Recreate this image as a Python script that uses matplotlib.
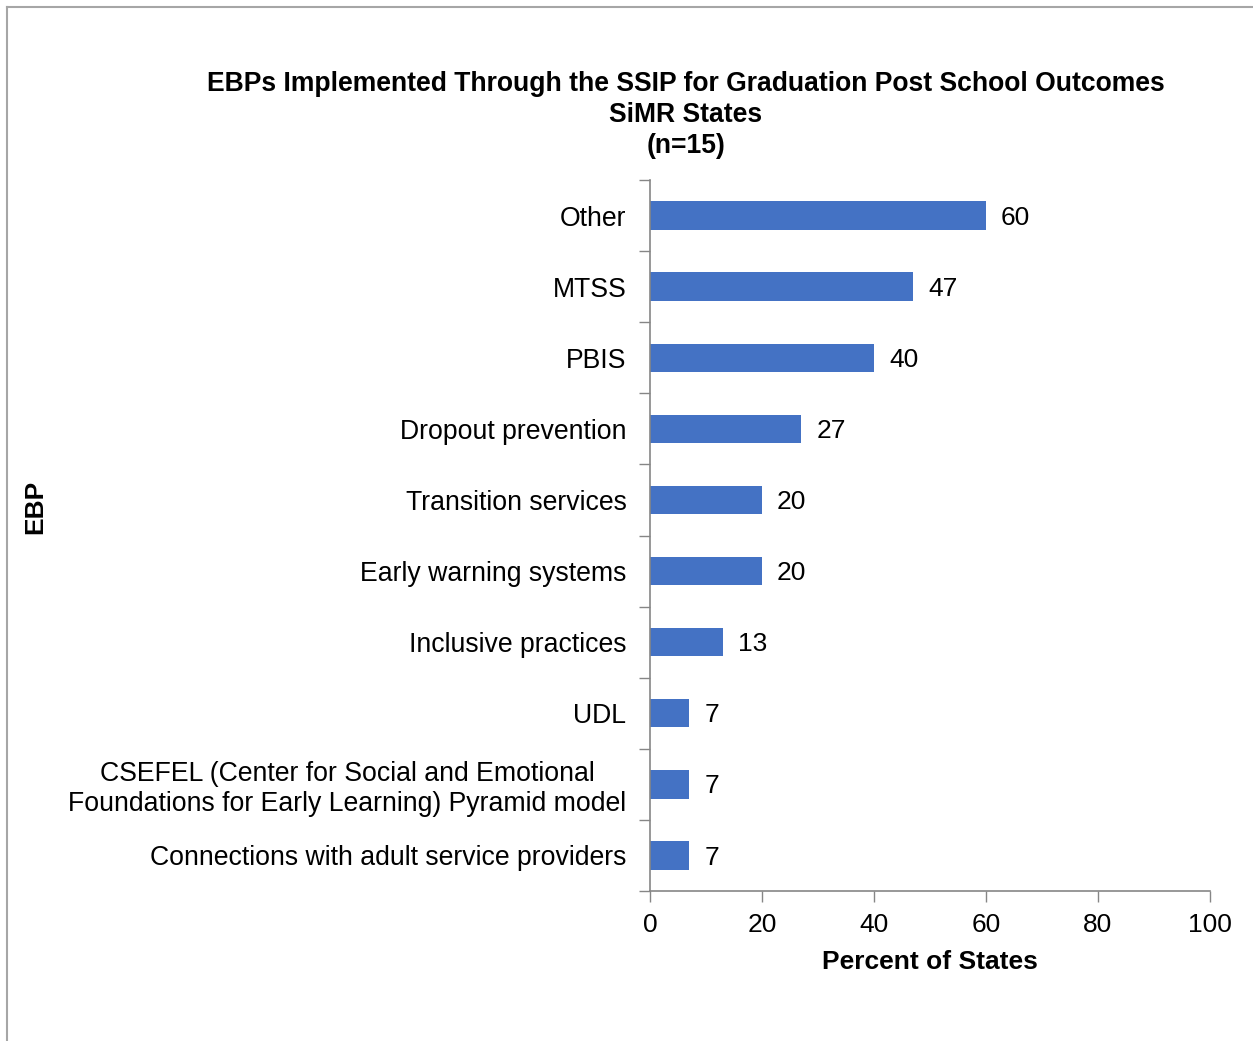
import numpy as np
import matplotlib.pyplot as plt
from matplotlib.lines import Line2D

plt.rcParams['font.family'] = ['Liberation Sans', 'DejaVu Sans']

# data, top to bottom
categories = ['Other', 'MTSS', 'PBIS', 'Dropout prevention', 'Transition services',
              'Early warning systems', 'Inclusive practices', 'UDL',
              'CSEFEL (Center for Social and Emotional\nFoundations for Early Learning) Pyramid model',
              'Connections with adult service providers']
percent = [60, 47, 40, 27, 20, 20, 13, 7, 7, 7]
x_ticks = [0, 20, 40, 60, 80, 100]

bar_color = '#4472C4'
axis_color = '#868686'

fig = plt.figure(figsize=(12.53, 10.41), dpi=100)
ax = fig.add_axes([650 / 1253, 1 - 891 / 1041, 560 / 1253, 711 / 1041])

y = np.arange(len(categories))
ax.barh(y, percent, height=0.4, color=bar_color)
for yi, v in zip(y, percent):
    ax.text(v + 2.7, yi + 0.03, str(v), va='center', ha='left', fontsize=19)

ax.set_xlim(0, 100)
ax.set_ylim(len(categories) - 0.5, -0.5)
ax.set_xticks(x_ticks)
ax.tick_params(axis='x', labelsize=19, length=8, width=1, color=axis_color, pad=7.5)

ax.set_yticks(y)
ax.set_yticklabels(categories, multialignment='center')
ax.tick_params(axis='y', which='major', length=0, pad=17, labelsize=19.2)
ax.set_yticks(np.arange(-0.5, len(categories), 1), minor=True)
ax.tick_params(axis='y', which='minor', length=8, width=1, color=axis_color)

for s in ['top', 'right']:
    ax.spines[s].set_visible(False)
for s in ['left', 'bottom']:
    ax.spines[s].set_color(axis_color)
    ax.spines[s].set_linewidth(1.2)

ax.set_xlabel('Percent of States', fontsize=19, fontweight='bold', labelpad=10)

fig.text(686 / 1253, 1 - 71 / 1041,
         'EBPs Implemented Through the SSIP for Graduation Post School Outcomes\nSiMR States\n(n=15)',
         ha='center', va='top', fontsize=19.1, fontweight='bold', linespacing=1.26)
fig.text(35 / 1253, 1 - 507 / 1041, 'EBP', rotation=90, ha='center', va='center',
         fontsize=19, fontweight='bold')

# outer frame (top and left edges visible)
fig.add_artist(Line2D([7 / 1253, 7 / 1253], [0, 1 - 7 / 1041], transform=fig.transFigure,
                      color='#A6A6A6', lw=1.5))
fig.add_artist(Line2D([7 / 1253, 1], [1 - 7 / 1041, 1 - 7 / 1041], transform=fig.transFigure,
                      color='#A6A6A6', lw=1.5))

fig.savefig('out.png', dpi=100)
